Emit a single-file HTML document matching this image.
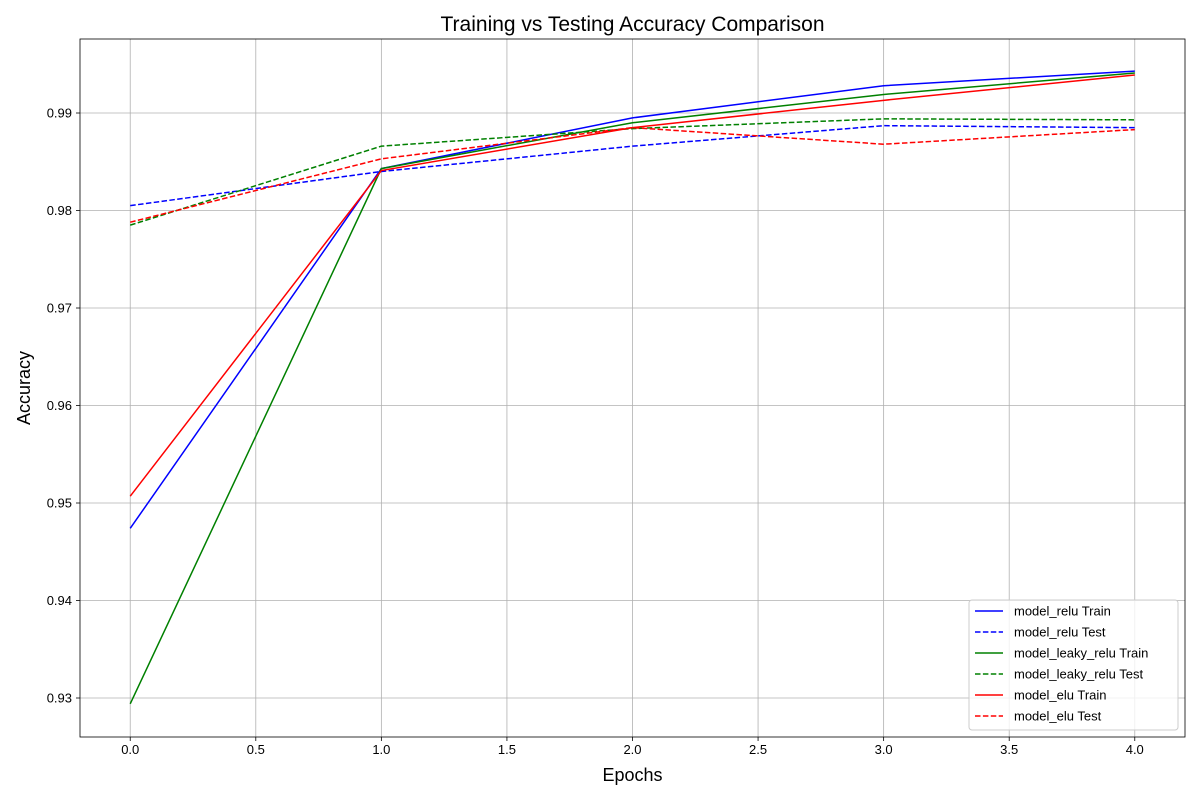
<!DOCTYPE html>
<html><head><meta charset="utf-8"><style>
body{margin:0;background:#fff;}
svg{display:block;font-family:"Liberation Sans","DejaVu Sans",sans-serif;}
</style></head><body>
<svg id="chart" width="1200" height="800"></svg>
<script>
const epochs=[0,1,2,3,4];
const reluTrain=[0.9474,0.9843,0.9895,0.9928,0.9943];
const reluTest=[0.9805,0.9840,0.9866,0.9887,0.9885];
const leakyTrain=[0.9294,0.9843,0.9890,0.9919,0.9941];
const leakyTest=[0.9785,0.9866,0.9884,0.9894,0.9893];
const eluTrain=[0.9507,0.9841,0.9885,0.9913,0.9939];
const eluTest=[0.9788,0.9853,0.9885,0.9868,0.9883];
const xTicks=[0,0.5,1,1.5,2,2.5,3,3.5,4];
const yTicks=[0.93,0.94,0.95,0.96,0.97,0.98,0.99];
const seriesNames=["model_relu Train","model_relu Test","model_leaky_relu Train","model_leaky_relu Test","model_elu Train","model_elu Test"];

const L=80,R=1185,T=39,B=737,xmin=-0.2,xmax=4.2,ymin=0.92600,ymax=0.99759;
const sx=v=>L+(v-xmin)/(xmax-xmin)*(R-L);
const sy=v=>B-(v-ymin)/(ymax-ymin)*(B-T);
const svg=document.getElementById('chart');
const NS='http://www.w3.org/2000/svg';
function mk(tag,attrs,parent){const e=document.createElementNS(NS,tag);for(const k in attrs)e.setAttribute(k,attrs[k]);(parent||svg).appendChild(e);return e;}

const grid=mk('g',{});


xTicks.forEach(t=>{
  const x=sx(t);
  mk('line',{x1:x,x2:x,y1:T,y2:B,stroke:'#b0b0b0','stroke-width':0.8},grid);
  mk('line',{x1:x,x2:x,y1:B,y2:B+4,stroke:'#000','stroke-width':0.8});
  const tx=mk('text',{x:x,y:B+17,'font-size':13,'text-anchor':'middle'});
  
  
  tx.textContent=t.toFixed(1);
});
yTicks.forEach(t=>{
  const y=sy(t);
  mk('line',{x1:L,x2:R,y1:y,y2:y,stroke:'#b0b0b0','stroke-width':0.8},grid);
  mk('line',{x1:L-4,x2:L,y1:y,y2:y,stroke:'#000','stroke-width':0.8});
  const tx=mk('text',{x:L-8,y:y+4.5,'font-size':13,'text-anchor':'end'});
  
  
  tx.textContent=t.toFixed(2);
});

const series=[[reluTrain,'blue',false],[reluTest,'blue',true],[leakyTrain,'green',false],[leakyTest,'green',true],[eluTrain,'red',false],[eluTest,'red',true]];
series.forEach((s,i)=>{
  const d=s[0].map((v,j)=>(j?'L':'M')+sx(epochs[j])+','+sy(v)).join(' ');
  const p=mk('path',{d:d,fill:'none',stroke:s[1],'stroke-width':1.5});
  if(s[2])p.setAttribute('stroke-dasharray','5.5,2.4');
  
  
});

const frame=mk('rect',{x:L,y:T,width:R-L,height:B-T,fill:'none',stroke:'#000','stroke-width':0.8});



const title=mk('text',{x:(L+R)/2,y:31,'font-size':21,'text-anchor':'middle'});


title.textContent='Training vs Testing Accuracy Comparison';
const xl=mk('text',{x:(L+R)/2,y:781,'font-size':18,'text-anchor':'middle'});


xl.textContent='Epochs';
const yl=mk('text',{x:0,y:0,'font-size':18,'text-anchor':'middle',transform:'translate(30,'+((T+B)/2)+') rotate(-90)'});


yl.textContent='Accuracy';

const lg=mk('g',{});


mk('rect',{x:969,y:600,width:209,height:130,rx:3,fill:'#fff','fill-opacity':0.8,stroke:'#ccc'},lg);
series.forEach((s,i)=>{
  const y=611+i*21;
  const ln=mk('line',{x1:975,x2:1003,y1:y,y2:y,stroke:s[1],'stroke-width':1.5},lg);
  if(s[2])ln.setAttribute('stroke-dasharray','5.5,2.4');
  const t=mk('text',{x:1014,y:y+4.5,'font-size':13},lg);
  
  
  t.textContent=seriesNames[i];
});
</script>
</body></html>
